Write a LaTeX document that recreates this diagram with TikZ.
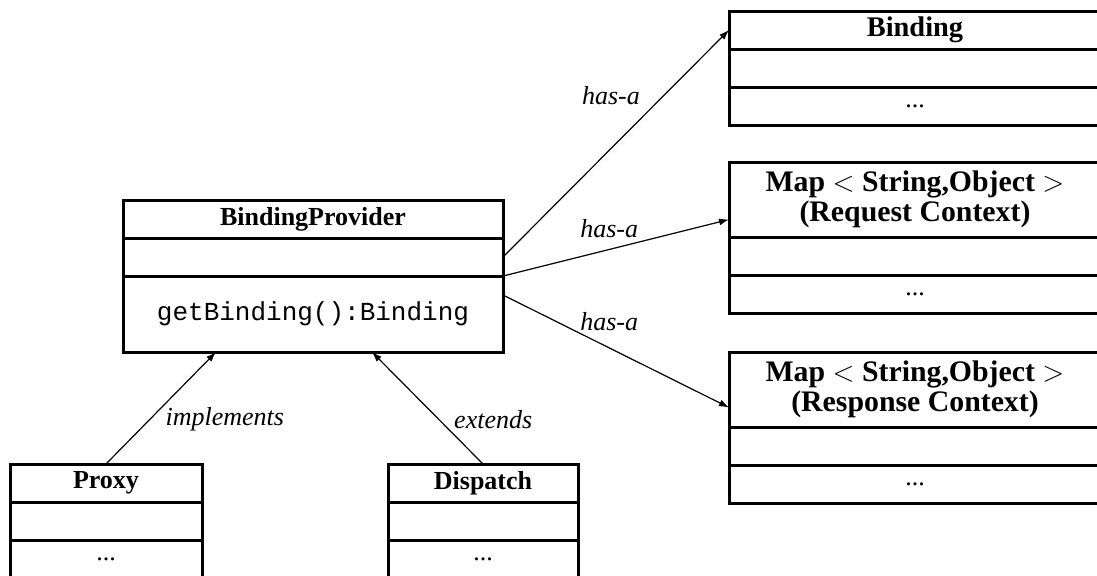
\documentclass[tikz,border=0pt]{standalone}
\usepackage{fontspec}
\setmainfont{Liberation Serif}
\setmonofont{Liberation Mono}
\usetikzlibrary{positioning,arrows.meta}

\begin{document}
\fontsize{13}{16}\selectfont
\begin{tikzpicture}[
  part/.style={draw,line width=1.5pt,inner sep=0pt,outer sep=0pt,minimum height=19pt},
  head/.style={part,font=\bfseries,align=center},
  rel/.style={line width=0.6pt,-{Latex[length=5pt,width=3.5pt]}},
  lbl/.style={font=\itshape,inner sep=0pt}]
  \path[use as bounding box,clip](0,0)rectangle(548.5pt,-287.5pt);
  % BindingProvider
  \node[head,minimum width=190pt](bp)at(156.5pt,-109.5pt){BindingProvider};
  \node[part,minimum width=190pt,below=0pt of bp](bp-attr){};
  \node[part,minimum width=190pt,minimum height=38pt,below=0pt of bp-attr,font=\ttfamily](bp-ops){getBinding():Binding};
  % Binding
  \node[head,minimum width=186pt,font=\fontsize{14.2}{16}\selectfont\bfseries](binding)at(457.5pt,-15pt){Binding};
  \node[part,minimum width=186pt,below=0pt of binding](binding-attr){};
  \node[part,minimum width=186pt,below=0pt of binding-attr](binding-ops){...};
  % request context
  \node[head,minimum width=186pt,minimum height=37.5pt,font=\fontsize{14.9}{15}\selectfont\bfseries](req)at(457.5pt,-99.75pt){Map $<$ String,Object $>$\\(Request Context)};
  \node[part,minimum width=186pt,below=0pt of req](req-attr){};
  \node[part,minimum width=186pt,below=0pt of req-attr](req-ops){...};
  % response context
  \node[head,minimum width=186pt,minimum height=37.5pt,font=\fontsize{14.9}{15}\selectfont\bfseries](resp)at(457.5pt,-194.75pt){Map $<$ String,Object $>$\\(Response Context)};
  \node[part,minimum width=186pt,below=0pt of resp](resp-attr){};
  \node[part,minimum width=186pt,below=0pt of resp-attr](resp-ops){...};
  % Proxy and Dispatch
  \node[head,minimum width=96pt](proxy)at(53pt,-241.5pt){Proxy};
  \node[part,minimum width=96pt,below=0pt of proxy](proxy-attr){};
  \node[part,minimum width=96pt,below=0pt of proxy-attr](proxy-ops){...};
  \node[head,minimum width=95pt](dispatch)at(241.5pt,-241.5pt){Dispatch};
  \node[part,minimum width=95pt,below=0pt of dispatch](dispatch-attr){};
  \node[part,minimum width=95pt,below=0pt of dispatch-attr](dispatch-ops){...};
  % relations
  \draw[rel](bp-attr.east)--node[lbl,pos=0.71,left=11.5pt]{has-a}(binding.west);
  \draw[rel](bp-attr.south east)--node[lbl,pos=0.47,above=5.5pt]{has-a}([yshift=-10pt]req.west);
  \draw[rel]([yshift=-9.5pt]bp-attr.south east)--node[lbl,pos=0.47,above=8.5pt]{has-a}([yshift=-9pt]resp.west);
  \draw[rel](proxy.north)--node[lbl,pos=0.4,right=7.5pt]{implements}([xshift=-48.5pt]bp-ops.south);
  \draw[rel](dispatch.north)--node[lbl,pos=0.4,right=7.5pt]{extends}([xshift=29.5pt]bp-ops.south);
\end{tikzpicture}
\end{document}
